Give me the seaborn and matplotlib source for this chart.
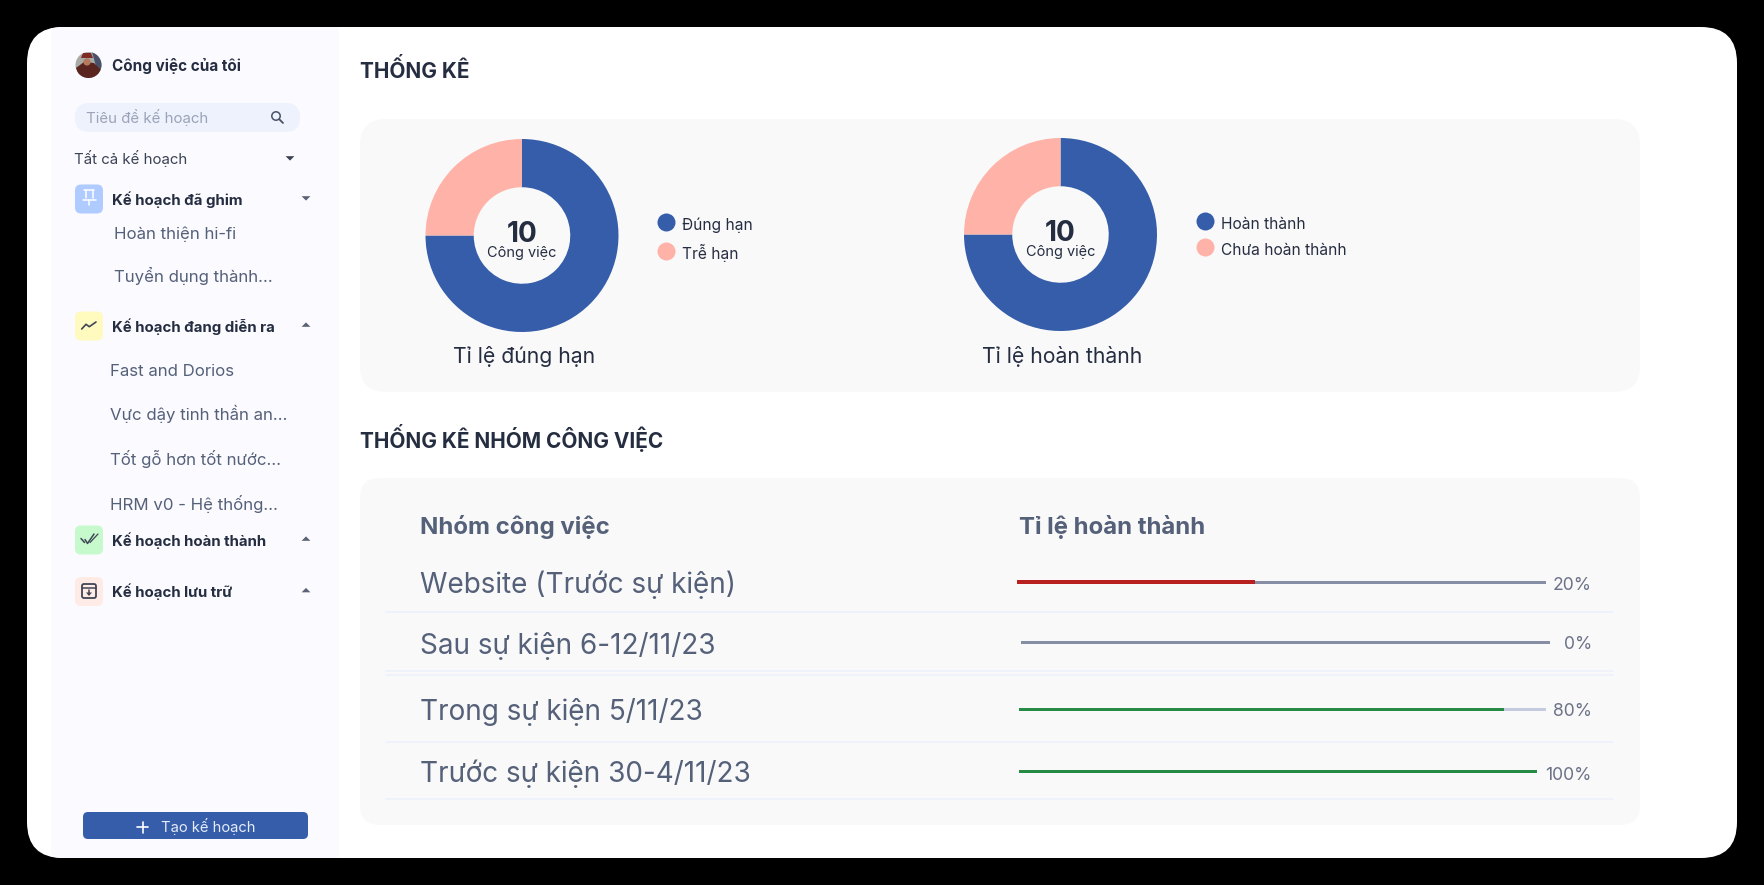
import pandas as pd
import seaborn as sns
import matplotlib.pyplot as plt
from matplotlib.lines import Line2D
from matplotlib.patches import Circle, FancyBboxPatch, Polygon, Rectangle
from matplotlib.transforms import Affine2D

# ==========================================
# DATA
# ==========================================

page_title = "THỐNG KÊ"
group_title = "THỐNG KÊ NHÓM CÔNG VIỆC"

donut_values = [75, 25]
donut_total = "10"
donut_unit = "Công việc"
ontime_title = "Tỉ lệ đúng hạn"
ontime_labels = ["Đúng hạn", "Trễ hạn"]
done_title = "Tỉ lệ hoàn thành"
done_labels = ["Hoàn thành", "Chưa hoàn thành"]

table_headers = ["Nhóm công việc", "Tỉ lệ hoàn thành"]
group_names = [
    "Website (Trước sự kiện)",
    "Sau sự kiện 6-12/11/23",
    "Trong sự kiện 5/11/23",
    "Trước sự kiện 30-4/11/23",
]
# the printed percent and the drawn length disagree in the picture
group_percent = ["20%", "0%", "80%", "100%"]
group_fill = [45, 0, 92, 100]
group_track = [100, 100, 100, 100]

menu_title = "Công việc của tôi"
search_hint = "Tiêu đề kế hoạch"
menu_filter = "Tất cả kế hoạch"
pinned_plans = ["Hoàn thiện hi-fi", "Tuyển dụng thành..."]
running_plans = [
    "Fast and Dorios",
    "Vực dậy tinh thần an...",
    "Tốt gỗ hơn tốt nước...",
    "HRM v0 - Hệ thống...",
]
section_names = [
    "Kế hoạch đã ghim",
    "Kế hoạch đang diễn ra",
    "Kế hoạch hoàn thành",
    "Kế hoạch lưu trữ",
]
create_button = "Tạo kế hoạch"

# ==========================================
# STYLE
# ==========================================

W, H = 1764, 885
DPI = 100

BLUE = "#355DA9"
PINK = "#FFB3A8"
INK = "#252D40"
SLATE = "#556079"
RULE = "#EDF1FB"
PANEL = "#F9F9FA"
SIDEBAR = "#FAFAFF"

sns.set_theme(style="white")
plt.rcParams["font.family"] = ["Inter", "DejaVu Sans"]


def px(size):
    return size * 72 / DPI


fig = plt.figure(figsize=(W / DPI, H / DPI), dpi=DPI, facecolor="black")

# ==========================================
# BACKGROUND LAYER, PIXEL COORDINATES
# ==========================================

bg = fig.add_axes([0, 0, 1, 1], zorder=0)
bg.set_xlim(0, W)
bg.set_ylim(H, 0)
bg.axis("off")


def box(x0, y0, x1, y1, r, color):
    patch = FancyBboxPatch(
        (x0, y0), x1 - x0, y1 - y0,
        boxstyle=f"round,pad=0,rounding_size={r}",
        facecolor=color, edgecolor="none"
    )
    bg.add_patch(patch)
    return patch


def label(x, y, text, size, color=INK, weight="normal", ha="left"):
    bg.text(x, y, text, fontsize=px(size), color=color, fontweight=weight,
            ha=ha, va="center_baseline")


def caret(x, y, up=False, color="#4B5266"):
    d = -2.6 if up else 2.6
    bg.add_patch(Polygon(
        [(x - 4.4, y - d * 0.7), (x + 4.4, y - d * 0.7), (x, y + d)],
        facecolor=color, edgecolor="none"
    ))


def stroke(xs, ys, color, lw=1.1):
    bg.add_line(Line2D(xs, ys, color=color, lw=lw, solid_capstyle="round",
                       solid_joinstyle="round"))


card = box(27, 27, 1737, 858, 36, "white")
side = Rectangle((51, 27), 288, 831, facecolor=SIDEBAR, edgecolor="none")
bg.add_patch(side)
side.set_clip_path(card)

# ==========================================
# SIDEBAR
# ==========================================

avatar = Circle((88.5, 65), 13, facecolor="#A9ABA6", edgecolor="none")
bg.add_patch(avatar)
avatar_parts = [
    Polygon([(92, 52), (103, 52), (103, 72), (96, 66)], facecolor="#48506A", edgecolor="none"),
    Polygon([(76, 68), (84, 62), (94, 63), (103, 72), (96, 80), (80, 80)], facecolor="#5A241F", edgecolor="none"),
    Circle((87, 62), 3.6, facecolor="#B57A5C", edgecolor="none"),
    Polygon([(81, 58), (93, 58), (91, 53), (83, 53)], facecolor="#7E2B24", edgecolor="none"),
]
for part in avatar_parts:
    bg.add_patch(part)
    part.set_clip_path(avatar)
label(112, 65, menu_title, 15.2, weight="bold")

box(75, 103, 300, 132, 14.5, "#EEF2FD")
label(86, 115.9, search_hint, 15, color="#9CA3B8")
bg.add_patch(Circle((276, 116), 4.2, facecolor="none", edgecolor="#4B5266", lw=1.1))
stroke([279.5, 283], [119.5, 123], "#4B5266", 1.3)

label(74.5, 156.75, menu_filter, 15, color="#3A4254")
caret(290, 158, color="#3A4254")

section_y = [199, 326, 540, 591.5]
section_fill = ["#B0CBFF", "#FFFBBE", "#C6F9CC", "#FFEBE6"]
section_up = [False, True, True, True]
for y, name, fill, up in zip(section_y, section_names, section_fill, section_up):
    box(75, y - 14.5, 103, y + 14.5, 6, fill)
    label(112, y - 1.1, name, 15, weight="bold")
    caret(306, y - 1, up=up, color="#5B6275")

# pin icon
stroke([84, 94], [190, 190], "white")
stroke([85.5, 85.5], [190, 198], "white")
stroke([92.5, 92.5], [190, 198], "white")
stroke([83, 96], [199.5, 199.5], "white")
stroke([89, 89], [199.5, 205], "white")
# trend icon
stroke([81.7, 86, 89.3, 96], [329, 324.3, 326.7, 322], "#3F4656", 1.2)
# double check icon
stroke([81, 84.5], [538.5, 542.5], "#3F4656")
stroke([85, 87.5, 94], [539.5, 543.5, 534], "#3F4656")
stroke([90, 98], [542.5, 534], "#3F4656", 0.9)
# archive icon
box(82, 584, 96, 598, 2, "none").set(edgecolor="#3F4656", lw=1.3)
stroke([82, 96], [588, 588], "#3F4656", 1.1)
stroke([89, 89], [590, 593], "#3F4656", 1.1)
bg.add_patch(Polygon([(86, 592.5), (92, 592.5), (89, 596)], facecolor="#3F4656", edgecolor="none"))

for y, name in zip([233, 274.75], pinned_plans):
    label(114, y, name, 16.8, color=SLATE)
for y, name in zip([370, 412.75, 457.9, 502.9], running_plans):
    label(110, y, name, 16.8, color=SLATE)

box(83, 812, 308, 839, 5, BLUE)
stroke([137, 148], [827, 827], "white", 1.2)
stroke([142.5, 142.5], [821.5, 832.5], "white", 1.2)
label(161, 825.25, create_button, 14.7, color="#E6ECF8")

# ==========================================
# MAIN PANELS AND TABLE TEXT
# ==========================================

label(360, 67.75, page_title, 20.8, weight="bold")
box(360, 119, 1640, 392, 26, PANEL)

label(360, 436.5, group_title, 20.8, weight="bold")
box(360, 478, 1640, 825, 20, PANEL)

label(420, 524.75, table_headers[0], 24, color=SLATE, weight="bold")
label(1019, 524.75, table_headers[1], 24, color=SLATE, weight="bold")

row_y = [581.9, 643, 708.9, 770.9]
for y, name in zip(row_y, group_names):
    label(420, y, name, 27.9, color=SLATE)

for y in [612, 671, 675, 742, 799]:
    bg.add_line(Line2D([386, 1613], [y, y], color=RULE, lw=1.1))

# ==========================================
# DONUTS
# ==========================================

palette = sns.color_palette([BLUE, PINK])


def draw_donut(cx, cy, values, title, title_xy, legend_labels, legend_xy):
    r = 96.5
    ax = fig.add_axes([(cx - r) / W, 1 - (cy + r) / H, 2 * r / W, 2 * r / H], zorder=1)
    wedges, _ = ax.pie(
        values,
        colors=palette,
        startangle=90,
        counterclock=False,
        radius=1,
        wedgeprops=dict(width=0.5, linewidth=0)
    )
    ax.set_xlim(-1, 1)
    ax.set_ylim(-1, 1)
    ax.text(0, 0.04, donut_total, fontsize=px(28), fontweight="bold", color=INK,
            ha="center", va="center_baseline")
    ax.text(0, -0.17, donut_unit, fontsize=px(14.5), color=INK,
            ha="center", va="center_baseline")
    label(title_xy[0], title_xy[1], title, 21.2, ha="center")

    handles = [
        Line2D([], [], linestyle="none", marker="o", markersize=px(18),
               markerfacecolor=c, markeredgecolor="none")
        for c in palette
    ]
    legend = fig.legend(
        handles, legend_labels,
        loc="center left",
        bbox_to_anchor=(legend_xy[0] / W, 1 - legend_xy[1] / H),
        frameon=False,
        fontsize=px(15.5),
        labelcolor=INK,
        labelspacing=0.72,
        handletextpad=0.15,
        borderpad=0,
        borderaxespad=0
    )
    # the label sits a little below its dot in the picture
    for t in legend.get_texts():
        t.set_transform(t.get_transform() + Affine2D().translate(-1, -2.5))


draw_donut(522, 235.5, donut_values, ontime_title, (524, 354.75), ontime_labels, (650, 237))
draw_donut(1060.5, 234.5, donut_values, done_title, (1062, 354.4), done_labels, (1189, 235))

# ==========================================
# PROGRESS BARS
# ==========================================

track_spans = [(1017, 1546), (1020.5, 1549.5), (1019, 1546), (1019, 1536.5)]
bar_y = [582, 642.7, 709, 771]
percent_y = [584, 642.9, 710, 773]
fill_colors = ["#B8211F", "#268C45", "#268C45", "#268C45"]
fill_widths = [0.9, 0.6, 0.6, 0.6]
track_colors = ["#868EA6", "#868EA6", "#C5CCDF", "#C5CCDF"]

for i, name in enumerate(group_names):
    x0, x1 = track_spans[i]
    ax = fig.add_axes([x0 / W, 1 - (bar_y[i] + 2.5) / H, (x1 - x0) / W, 5 / H], zorder=1)
    row = pd.DataFrame({"group": [name], "track": [group_track[i]], "fill": [group_fill[i]]})
    sns.barplot(data=row, x="track", y="group", orient="h", color=track_colors[i],
                saturation=1, width=0.6, linewidth=0, ax=ax)
    sns.barplot(data=row, x="fill", y="group", orient="h", color=fill_colors[i],
                saturation=1, width=fill_widths[i], linewidth=0, ax=ax)
    ax.set_xlim(0, 100)
    ax.axis("off")
    ax.patch.set_alpha(0)
    label(1592, percent_y[i], group_percent[i], 17.5, color="#6B7288", ha="right")

fig.savefig("out.png", dpi=DPI, facecolor=fig.get_facecolor())
